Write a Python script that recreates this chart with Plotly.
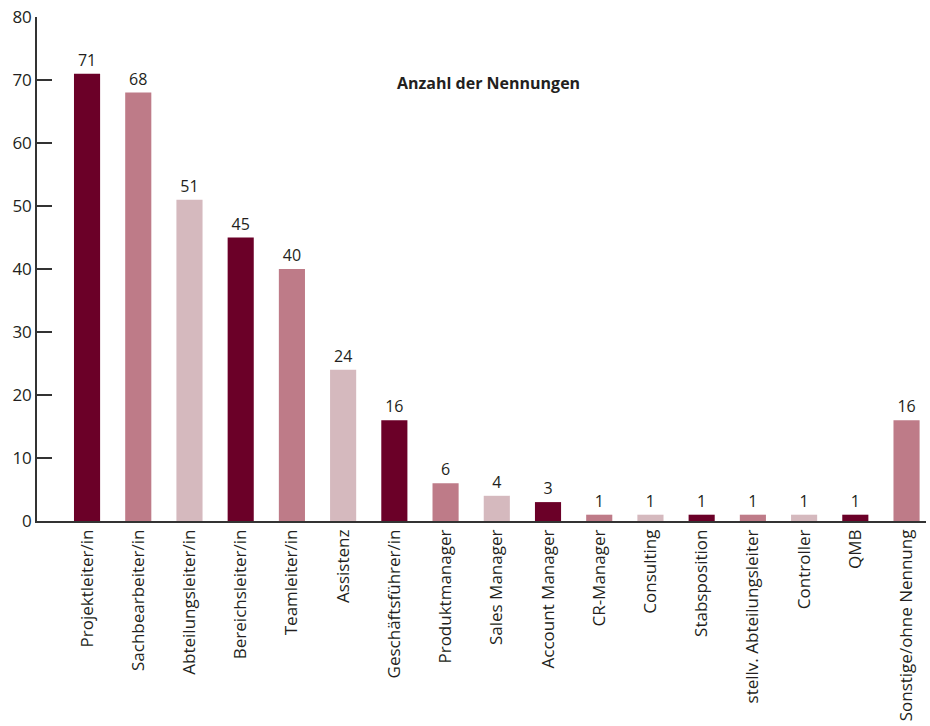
import plotly.graph_objects as go

categories = [
    "Projektleiter/in", "Sachbearbeiter/in", "Abteilungsleiter/in", "Bereichsleiter/in",
    "Teamleiter/in", "Assistenz", "Geschäftsführer/in", "Produktmanager", "Sales Manager",
    "Account Manager", "CR-Manager", "Consulting", "Stabsposition",
    "stellv. Abteilungsleiter", "Controller", "QMB", "Sonstige/ohne Nennung",
]
values = [71, 68, 51, 45, 40, 24, 16, 6, 4, 3, 1, 1, 1, 1, 1, 1, 16]

palette = ["#6B0028", "#BE7B88", "#D5B9BE"]
bar_colors = [palette[i % 3] for i in range(len(categories))]

font_family = "Open Sans, Noto Sans, sans-serif"
text_color = "#231f20"

fig = go.Figure(
    go.Bar(
        x=list(range(len(categories))),
        y=values,
        marker=dict(color=bar_colors, line=dict(width=0)),
        width=0.51,
        text=[str(v) for v in values],
        textposition="outside",
        textfont=dict(family=font_family, size=16, color=text_color),
        cliponaxis=False,
    )
)

fig.update_layout(
    width=930,
    height=726,
    margin=dict(l=37, r=4, t=17, b=205),
    paper_bgcolor="white",
    plot_bgcolor="white",
    showlegend=False,
    font=dict(family=font_family, size=16, color=text_color),
    annotations=[
        dict(
            text="<b>Anzahl der Nennungen</b>",
            x=0.508, y=0.87, xref="paper", yref="paper",
            showarrow=False, xanchor="center", yanchor="middle",
            font=dict(family=font_family, size=16, color=text_color),
        )
    ],
)

fig.update_xaxes(
    range=[-0.977, 16.38],
    tickmode="array",
    tickvals=list(range(len(categories))),
    ticktext=categories,
    tickangle=-90,
    ticks="",
    showline=True,
    linecolor="#333333",
    linewidth=1.5,
    showgrid=False,
    zeroline=False,
    tickfont=dict(family=font_family, size=17, color=text_color),
)

fig.update_yaxes(
    range=[0, 80],
    tickmode="array",
    tickvals=[0, 10, 20, 30, 40, 50, 60, 70, 80],
    ticks="inside",
    ticklen=15,
    tickwidth=1.5,
    tickcolor="#333333",
    showline=True,
    linecolor="#333333",
    linewidth=1.5,
    showgrid=False,
    zeroline=False,
    tickfont=dict(family=font_family, size=17, color=text_color),
)

fig.write_html("out.html")
